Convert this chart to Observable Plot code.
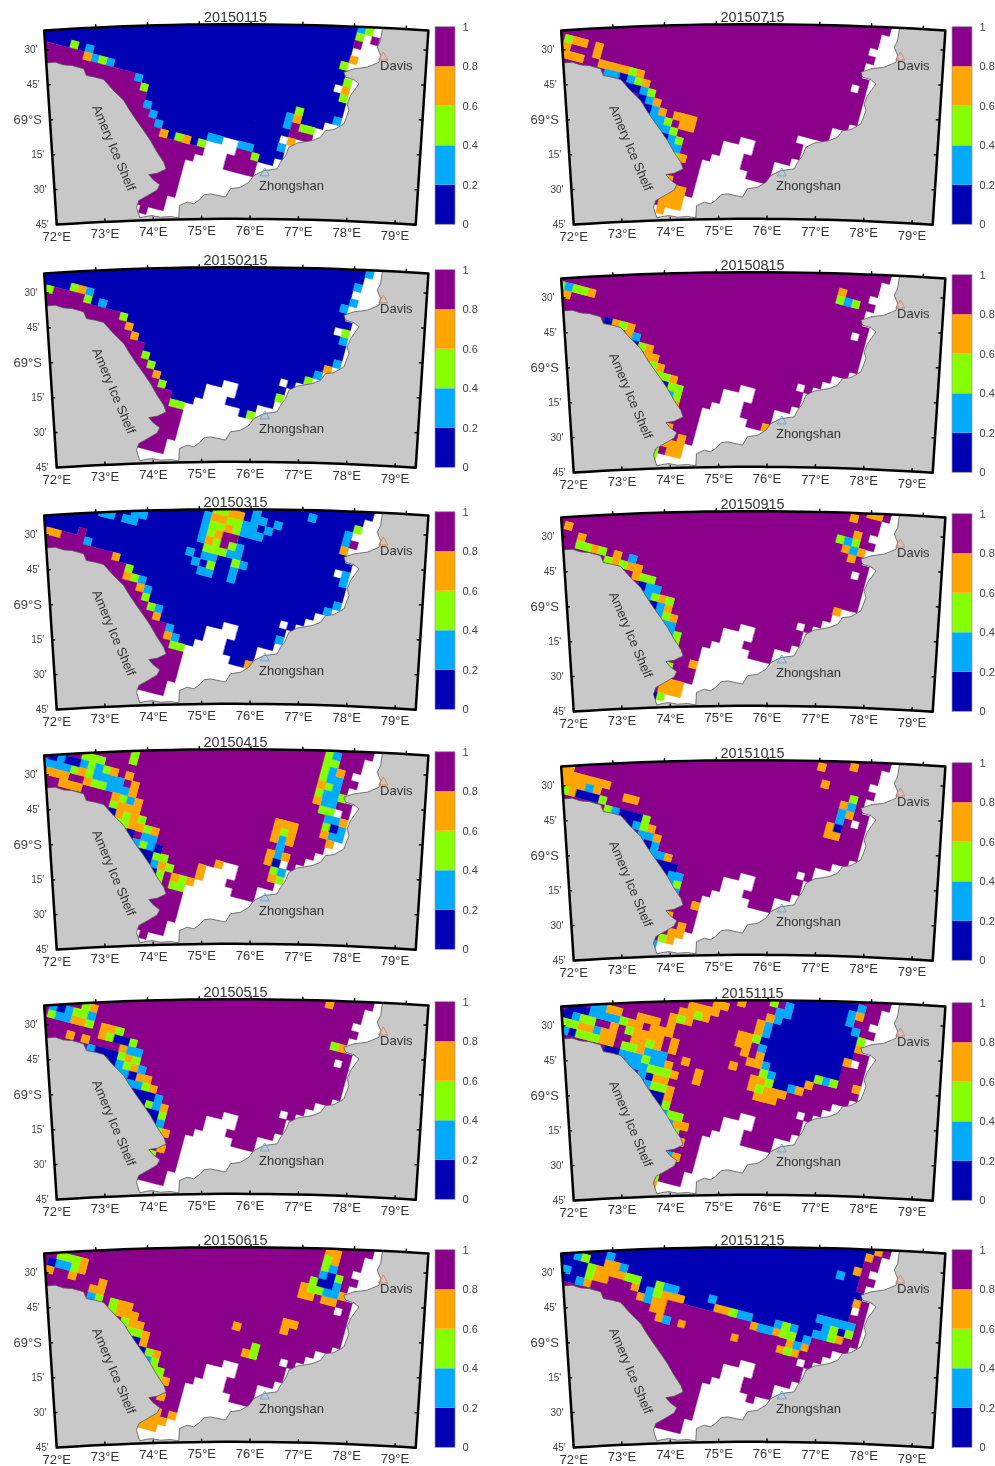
<!DOCTYPE html>
<html><head><meta charset="utf-8">
<script src="https://cdn.jsdelivr.net/npm/d3@7"></script>
<script src="https://cdn.jsdelivr.net/npm/@observablehq/plot@0.6"></script>
<style>html,body{margin:0;padding:0;background:#fff}#root{position:relative;width:995px;height:1466px;overflow:hidden}svg{position:absolute;font-family:"Liberation Sans",Arial,sans-serif;filter:blur(0.35px)}</style>
</head><body><div id="root"></div>
<script>
// sea-ice concentration classes
const B=0.1,C=0.3,G=0.5,O=0.7,P=0.9,W=null;
const classEdges=[0.2,0.4,0.6,0.8];
const classColors=["#0000b4","#00aaff","#88ff00","#ffa500","#8b008b"];
const barTicks=[0,0.2,0.4,0.6,0.8,1];
const lonTicks=[72,73,74,75,76,77,78,79];
const topTicks=[73,74,75,76,77,78,79];
const latTicks=[-68.5,-68.75,-69,-69.25,-69.5,-69.75];
const latLabels=["30'","45'","69°S","15'","30'","45'"];
const dates=["20150115","20150215","20150315","20150415","20150515","20150615","20150715","20150815","20150915","20151015","20151115","20151215"];
// ocean grid rows: [row, firstCol, lastCol, firstCol, lastCol ...]
const oceanRows=[[-12,-6,36],[-11,-6,36],[-10,-6,35],[-9,-6,35],[-8,-6,34],[-7,-6,35],[-6,-6,34],[-5,-6,34],[-4,-6,35],[-3,-6,33,35,35],[-2,-6,35],[-1,-6,35],[0,-6,35],[1,-6,35],[2,-6,34],[3,-6,32],[4,-6,31],[5,-6,28,30,30],[6,-6,29],[7,-6,21,24,29],[8,-6,19,24,28],[9,-6,19,23,26],[10,-6,18,23,26],[11,-6,17,24,26],[12,-6,17],[13,-6,17],[14,-6,17],[15,-6,17],[16,12,16],[17,13,16]];
const amerySouth=[[P,12,-6,17],[P,13,-6,17],[P,14,-6,17],[P,15,-6,17],[P,16,12,16],[P,17,13,16]];
// per-month: [class,row,col0,col1]
const ice0115=[[P,1,-6,1],[O,1,2],[C,1,3],[G,1,4],[C,1,5],[P,2,-6,8],[C,2,9],[P,3,-6,9],[G,3,10],[P,4,-6,10],[P,5,-6,10],[C,5,11],[P,6,-6,11],[C,6,12],[P,7,-6,12],[C,7,13],[P,8,-6,13],[O,8,14],[G,8,16],[O,8,17],[G,8,19],[P,9,-6,19],[P,10,-6,18],[P,11,-6,17],...amerySouth,[P,18,14],[G,0,0],[C,0,2],[C,7,20,21],[C,7,24,25],[P,8,24,25],[G,8,26],[P,9,23,26],[P,10,23,26],[W,11,24,26],[C,2,29],[C,3,29],[G,1,30],[O,2,30],[P,3,30],[G,3,31,32],[P,4,30,32],[O,5,30],[C,6,29],[W,2,34],[G,-10,35],[P,-9,35],[O,-7,35],[G,-6,34],[G,-4,35],[O,-3,35],[G,-2,35],[C,1,35],[G,-11,36],[C,-11,35],[P,-10,37]];
const ice0215=[[G,1,-3],[P,1,-2,1],[G,1,2],[G,0,0],[O,0,1],[C,0,2],[C,1,4],[P,2,-6,6],[G,2,7],[P,3,-6,7],[O,3,8],[P,4,-6,8],[O,4,9],[P,5,-6,10],[P,6,-6,10],[G,6,11],[P,7,-6,11],[G,7,12],[P,8,-6,12],[O,8,13],[P,9,-6,13],[G,9,14],[P,10,-6,15],[P,11,-6,15],[G,11,16,17],...amerySouth,[W,10,23,24],[W,11,24,26],[G,10,26],[G,7,29],[G,4,32],[C,3,33],[O,2,34],[C,1,35],[C,-2,35],[G,-3,35],[C,-6,34],[C,-7,35],[C,-9,35],[C,-11,36]];
const ice0315=[[O,1,-3,-2],[P,0,1],[P,1,-1,1],[C,1,2],[P,2,-6,5],[O,2,6],[P,3,-6,7],[G,3,8],[P,4,-6,7],[O,4,8],[G,4,9],[C,4,10],[P,5,-6,9],[O,5,10],[C,5,11],[P,6,-6,10],[G,6,11],[P,7,-6,11],[G,7,12],[C,7,13],[P,8,-6,12],[O,8,13],[P,9,-6,14],[C,9,15],[P,10,-6,14],[O,10,15],[C,10,16],[P,11,-6,15],[G,11,16,17],...amerySouth,[O,11,26],[C,7,29],[C,2,34],[C,1,35],[C,-3,35],[C,-2,35],[O,-6,34],[P,-7,35],[C,-7,34],[C,-8,34],[G,-9,35],[O,-6,17,18],[O,-7,19,20],[G,-7,17,18],[G,-6,19,20],[C,-6,16],[C,-5,16],[G,-5,17,18],[O,-5,19],[G,-5,20],[C,-4,16],[G,-4,17],[O,-4,18],[P,-4,19,20],[C,-3,16],[O,-3,17],[G,-3,18],[P,-3,19],[G,-3,20],[C,-3,21],[G,-2,17,19],[C,-2,20,21],[C,-1,17,18],[G,-1,21],[C,-1,22],[C,-1,15],[C,0,16],[G,0,18],[C,1,17,18],[C,0,21],[C,1,21],[C,-7,22,23],[C,-6,21,22],[C,-5,21,23],[C,-6,24],[C,-7,25],[C,-8,22],[C,-3,3,4],[C,-3,6,7],[C,-4,7,8],[C,-9,29]];
const ice0415=[[G,-4,7],[G,-3,7],[G,-2,1,3],[B,-1,-3],[C,-1,-2],[B,-1,-1,0],[C,-1,1],[G,-1,2],[C,-1,3],[G,-1,4],[O,-1,5],[O,-1,7],[C,0,-4,-1],[G,0,0],[O,0,1],[G,0,2],[C,0,3,6],[O,0,8],[O,1,-3,-1],[O,1,2],[G,1,3,4],[C,1,5,7],[O,1,8],[O,2,-1,1],[O,2,6],[G,2,7],[C,2,8],[O,2,9],[G,3,6],[O,3,7,9],[B,4,6],[O,4,7],[G,4,8],[O,4,9],[G,4,10],[G,5,7,8],[O,5,9,10],[G,5,11],[O,5,12],[B,6,9],[C,6,11,12],[C,7,10],[G,7,11],[C,7,12],[B,7,13],[B,8,11,12],[G,8,13,14],[B,9,12],[C,9,13],[O,9,14],[G,9,15],[O,8,19],[O,9,19],[B,10,13],[G,10,14],[O,10,16],[G,10,17],[O,10,18],[G,11,14],[G,11,16,17],[O,7,21],[W,10,23],[W,11,24,26],[O,0,27,29],[O,1,27],[G,1,28],[O,1,29],[O,2,27],[C,2,28],[O,2,29],[C,3,28],[O,4,27],[C,4,28],[O,4,29],[O,5,27],[B,5,28],[G,6,28],[C,6,29],[O,7,28],[G,7,29],[G,-10,31],[C,-10,32],[G,-9,31,32],[G,-8,31],[C,-8,32],[O,-8,33],[G,-7,31],[C,-7,32,33],[O,-6,31],[G,-6,32],[C,-6,33],[G,-5,31],[C,-5,32,33],[G,-5,34],[O,-4,31],[C,-4,32,33],[G,-3,32,33],[C,-2,33,34],[O,-2,35],[G,-1,33],[B,-1,34],[C,-1,35],[O,0,33],[C,0,34,35],[O,1,34],[W,1,35],[W,2,34],[P,18,14]];
const ice0515=[[G,0,-3],[C,0,-2,-1],[C,-1,-3],[B,-1,-2],[C,-1,-1],[G,-1,0],[G,-1,1],[C,-1,2],[G,-2,1],[O,-2,2],[O,0,0,1],[G,0,2],[O,2,0],[O,2,2],[O,0,4,5],[G,0,6],[O,1,4],[G,1,5],[B,1,6,7],[G,1,8],[O,2,7],[C,2,8,9],[C,3,3],[B,3,4,6],[G,3,7],[O,3,8],[G,3,9],[B,4,6],[C,4,7],[G,4,8],[O,4,9],[C,4,10],[C,5,7,8],[B,5,9],[O,5,10,11],[C,6,9,10],[G,6,11],[O,6,12],[B,7,10,12],[C,7,13],[B,8,11],[G,8,12],[C,8,13],[O,8,14],[B,9,12,13],[G,9,14],[B,10,13],[C,10,14],[G,11,14],[O,11,15],[G,14,14],[O,13,15],[O,-10,31],[G,-5,33],[O,-5,34],[W,10,23],[W,11,24,26]];
const ice0615=[[B,0,-3],[C,0,-2,-1],[G,-1,-2,0],[G,0,0],[O,-1,1],[O,0,1],[O,1,-3],[O,1,0],[O,2,3,4],[O,1,4],[C,3,3],[G,3,4],[G,3,6],[O,3,7,8],[G,4,6],[O,4,7,9],[G,5,8],[O,5,9,10],[G,6,9,10],[O,6,11],[B,7,10],[O,7,11],[B,8,11],[G,8,12],[O,8,13],[C,9,12],[G,9,13],[G,10,13,14],[G,11,14],[O,11,15],[O,13,15],[O,15,15],[O,15,17],[O,16,13,16],[O,17,13,15],[W,17,16],[O,-10,31,32],[O,-9,32],[G,-9,31],[G,-8,31],[C,-8,32],[C,-7,31],[B,-7,32],[G,-7,33],[B,-6,31,32],[C,-6,33],[G,-6,30],[G,-5,30,31],[C,-5,32,33],[O,-5,34],[O,-5,29],[O,-4,29,30],[O,-4,32,33],[O,2,22],[O,0,28,29],[O,1,28],[O,5,24],[G,4,25],[G,5,25]];
const ice0715=[[G,0,-3],[O,0,-2,-1],[O,1,-3],[O,2,-3,-1],[O,0,1],[O,1,1],[O,2,2,5],[G,2,6],[O,2,7],[C,3,3,4],[B,3,5],[C,3,6],[G,3,7],[O,3,8],[B,4,6,7],[C,4,8],[G,4,9],[B,5,8],[C,5,9],[O,5,10],[B,6,9],[C,6,10],[O,6,11],[C,7,10,11],[G,7,12],[C,8,11,12],[G,8,13],[B,9,12],[C,9,13],[G,9,14],[C,10,13,14],[G,11,14],[O,11,15],[O,6,13,15],[O,7,14,15],[O,14,14],[O,15,15,16],[O,16,14,16],[P,17,13],[O,17,14,16],[O,18,14],[W,5,30],[P,4,32]];
const ice0815=[[G,0,-4],[C,0,-3],[G,0,-2,-1],[O,0,0],[O,1,-3],[B,3,3],[O,3,4],[G,3,5],[O,3,6],[O,4,6],[C,4,7],[B,5,7],[G,5,8],[O,5,9],[O,6,9,10],[G,7,10],[O,7,11],[G,8,11,12],[O,8,13],[B,9,12],[G,9,13,14],[C,10,13],[G,10,14],[O,11,14],[O,-8,31],[G,-7,31],[C,-7,32],[G,-7,33],[O,11,26],[O,14,14],[O,15,16],[O,16,14,16],[P,17,14],[O,17,15,16],[G,17,13],[G,18,13]];
const ice0915=[[O,0,-3],[O,1,-1],[G,2,-1,0],[O,2,1],[G,2,2],[O,2,4],[G,3,3],[O,3,4],[G,3,5],[C,2,6],[O,3,6,7],[O,4,7],[G,4,8,9],[B,5,8],[C,5,9,10],[C,6,9],[G,6,10],[O,6,11],[G,6,12],[B,7,10],[C,7,11],[O,7,12],[C,8,11],[G,8,12],[O,8,13],[C,9,12,13],[C,10,13],[G,10,14],[G,11,14],[O,13,17],[O,16,14,16],[O,17,14,16],[B,18,13],[G,18,14],[G,14,14],[O,-10,32],[O,-11,34,35],[O,-8,33],[G,-7,31],[C,-7,32],[G,-7,33],[O,-6,32],[C,-6,33],[O,-6,34],[O,-5,33],[O,2,33],[W,2,34],[W,10,23],[W,11,24,26]];
const ice1015=[[O,-1,-4,-3],[O,0,-4,2],[O,1,-4,-1],[C,1,0],[O,1,1],[G,2,-3],[O,2,-2],[B,2,-1,1],[G,2,2],[G,3,3],[C,3,4],[B,3,5,7],[G,3,8],[B,4,6],[C,4,7],[G,4,8],[O,4,9],[C,5,8,9],[O,5,10],[B,6,9],[C,6,10],[C,7,10,11],[O,7,12],[B,8,11,13],[B,9,12],[C,9,13,14],[C,10,13],[G,10,14],[C,11,14],[O,1,5,6],[O,12,17],[O,-9,28],[O,-7,29],[O,-10,32],[G,-6,33],[O,-5,32],[C,-5,33],[C,-4,32],[O,-4,33],[C,-3,32],[O,-2,31],[B,-2,32],[O,-1,31,32],[W,4,31],[W,10,23],[W,11,24,26],[O,14,14],[O,15,16],[O,16,15,16],[G,17,14],[O,17,15],[W,17,16],[C,18,13]];
const ice1115=[[B,-10,28,32],[C,-10,33],[B,-9,24,31],[C,-9,32],[O,-9,33],[C,-8,24],[B,-8,25,31],[C,-8,32],[G,-8,22],[O,-7,18],[C,-7,23,24],[B,-7,25,32],[C,-7,33],[O,-6,22],[C,-6,23],[B,-6,24,33],[G,-6,34],[O,-6,15,16],[O,-5,12,15],[O,-5,21],[C,-5,22],[B,-5,23,33],[O,-5,34],[O,-4,11,12],[G,-4,13],[O,-4,14],[O,-4,21],[C,-4,22],[B,-4,23,33],[O,-3,10],[G,-3,11],[O,-3,12],[O,-3,19,20],[G,-3,21],[B,-3,22,32],[O,-3,33],[C,-2,0,1],[O,-2,2,3],[O,-2,6,8],[O,-2,10],[O,-2,19,20],[C,-2,22],[B,-2,23,32],[B,-1,-3,-1],[C,-1,0,3],[G,-1,4],[O,-1,5,6],[O,-1,8,10],[O,-1,20],[O,-1,22],[B,-1,23,32],[B,0,-4,-3],[C,0,-2],[G,0,-1,0],[O,0,3],[G,0,5],[O,0,6,9],[O,0,11],[O,0,21,22],[C,0,23],[B,0,24,29],[G,0,30],[C,0,31],[G,0,32],[O,0,35],[G,1,-4,-2],[O,1,-1,0],[C,1,1],[O,1,2,3],[O,1,6,7],[G,1,8],[O,1,9],[O,1,11],[O,1,19],[G,1,23],[C,1,24],[B,1,25,28],[O,1,29],[C,2,-3],[B,2,-2],[G,2,-1,1],[O,2,2,3],[G,2,5,6],[O,2,7],[C,2,8,10],[O,2,13],[O,2,22,23],[G,2,24],[B,2,25,26],[C,2,27],[O,2,28],[B,3,3,4],[C,3,5,7],[G,3,8],[C,3,9,10],[O,3,11],[O,3,15],[O,3,22],[G,3,23],[O,3,24,26],[C,4,6,8],[G,4,9,11],[O,4,12],[O,4,15],[O,4,23,25],[C,5,8],[B,5,9],[O,5,10,11],[C,6,9],[G,6,10,11],[O,6,12],[B,7,10,11],[O,7,12],[B,8,11],[G,8,12],[C,9,12],[G,9,13,14],[C,10,13],[O,10,14,15],[G,11,14],[O,12,15],[C,14,14],[O,14,15],[G,17,13],[O,18,13],[W,11,24,26]];
const ice1215=[[B,-12,-6,36],[B,-11,-6,34],[O,-11,35],[P,-11,36],[B,-10,-6,33],[O,-10,34],[P,-10,35],[B,-9,-6,33],[P,-9,34,35],[B,-8,-6,32],[O,-8,33],[P,-8,34],[B,-7,-6,33],[C,-7,31],[P,-7,34,35],[B,-6,-6,33],[P,-6,34],[B,-5,-6,34],[B,-4,-6,33],[O,-4,34],[P,-4,35],[B,-3,-6,33],[P,-3,35],[B,-2,-6,33],[C,-2,2],[P,-2,34,35],[B,-1,-6,29],[C,-1,-2],[G,-1,-1],[O,-1,2,3],[C,-1,4],[C,-1,30,34],[P,-1,35],[B,0,-6,-1],[G,0,0],[O,0,1,4],[G,0,5,6],[B,0,7,8],[G,0,9],[C,0,10,11],[B,0,12,15],[C,0,16],[B,0,17,30],[C,0,31],[G,0,32],[B,0,33],[G,0,34],[P,0,35],[B,1,-6,-1],[C,1,-3],[G,1,0],[O,1,1,2],[O,1,6],[B,1,7],[C,1,8],[G,1,9],[O,1,10,12],[B,1,13,16],[O,1,17,18],[G,1,19],[C,1,20,21],[B,1,22,24],[C,1,25],[G,1,26],[C,1,27],[B,1,28,29],[C,1,30,31],[G,1,32],[O,1,33],[B,2,-6,-2],[C,2,-1],[O,2,0],[O,2,7],[C,2,8],[O,2,9,10],[O,2,22],[C,2,23,24],[O,2,25],[G,2,26,27],[B,2,28],[C,2,29],[O,3,9,10],[O,3,27],[C,3,28],[O,3,29],[O,4,10],[C,4,11],[O,4,13],[O,4,20],[O,4,26],[G,4,27],[O,4,28],[W,11,25,26]];
const monthly=[[B,ice0115],[B,ice0215],[B,ice0315],[P,ice0415],[P,ice0515],[P,ice0615],[P,ice0715],[P,ice0815],[P,ice0915],[P,ice1015],[P,ice1115],[P,ice1215]];
// coastline, lon/lat
const coast=[[72,-68.592],[72.176,-68.591],[72.337,-68.614],[72.499,-68.622],[72.724,-68.65],[72.77,-68.699],[72.945,-68.714],[73.107,-68.733],[73.264,-68.803],[73.358,-68.84],[73.485,-68.889],[73.578,-68.95],[73.704,-69.024],[73.863,-69.109],[73.99,-69.181],[74.118,-69.266],[74.247,-69.339],[74.291,-69.387],[74.106,-69.416],[73.936,-69.424],[74.021,-69.461],[74.154,-69.498],[74.097,-69.535],[73.923,-69.569],[73.714,-69.607],[73.661,-69.654],[73.722,-69.731],[73.875,-69.721],[73.979,-69.718],[74.15,-69.731],[74.357,-69.728],[74.528,-69.739],[74.547,-69.651],[74.706,-69.628],[74.843,-69.64],[74.981,-69.606],[75.051,-69.577],[75.187,-69.571],[75.495,-69.594],[75.598,-69.535],[75.802,-69.524],[75.972,-69.488],[76.073,-69.44],[76.276,-69.404],[76.546,-69.39],[76.612,-69.343],[76.711,-69.295],[76.775,-69.235],[76.941,-69.203],[77.242,-69.183],[77.408,-69.158],[77.504,-69.109],[77.67,-69.1],[77.866,-69.057],[77.956,-68.96],[77.917,-68.913],[77.977,-68.853],[78.132,-68.767],[78.03,-68.738],[77.864,-68.723],[77.828,-68.688],[78.022,-68.661],[78.282,-68.645],[78.506,-68.606],[78.532,-68.558],[78.459,-68.499],[78.518,-68.451],[78.541,-68.36]];
const stations=[{lon:78.586,lat:-68.569,c:"#d9805a"},{lon:76.297,lat:-69.423,c:"#5aa5d9"}];
const places=[{name:"Davis",lon:78.849,lat:-68.623,rot:0},{name:"Zhongshan",lon:76.844,lat:-69.508,rot:0},{name:"Amery Ice Shelf",lon:73.247,lat:-69.224,rot:67}];
const west=72,east=79.43,north=-68.36,south=-69.75,lon0=75.7;

// reference grid and projection (stereographic, south-pole aspect)
const K=46540,PX=705,PY=8951;
const base=d3.geoStereographic().rotate([-lon0,90]).scale(K).translate([PX,PY]).precision(0.1);
const gridXY=(i,j)=>[222+22.7*i-6.2*j,118+5.9*i+22.9*j];
const cellRing=(i,j)=>[[i-.5,j-.5],[i+.5,j-.5],[i+.5,j+.5],[i-.5,j+.5],[i-.5,j-.5]].map(([a,b])=>base.invert(gridXY(a,b)));
const along=(lat,a,b)=>{const n=24;return d3.range(n+1).map(k=>[a+(b-a)*k/n,lat]);};
const frameRing=[...along(north,west,east),...along(south,east,west),[west,north]];
const landRing=[...coast,...along(north,78.541,east),...along(south,east,west),coast[0]];
const outerLat=-68.2,outerLon=71;
const outTop={type:"Polygon",coordinates:[[...along(outerLat,outerLon,81),...along(north,81,outerLon),[outerLon,outerLat]]]};
const outLeft={type:"Polygon",coordinates:[[...along(north+0.02,outerLon,west),...along(south-0.03,west,outerLon),[outerLon,north+0.02]]]};
const fix=g=>{if(d3.geoArea(g)>2*Math.PI)g.coordinates[0].reverse();return g;};
const land=fix({type:"Polygon",coordinates:[landRing]});
const frame=fix({type:"Polygon",coordinates:[frameRing]});
fix(outTop);fix(outLeft);
const tickLines={type:"MultiLineString",coordinates:[
 ...lonTicks.map(l=>[[l,south],[l,south+0.02]]),
 ...topTicks.map(l=>[[l,north],[l,north+0.02]]),
 ...latTicks.map(l=>[[west,l],[west+0.05,l]]),
 ...latTicks.map(l=>[[east,l],[east-0.06,l]])]};

function buildCells(def,runs){
  const m=new Map();
  for(const row of oceanRows){const j=row[0];for(let s=1;s<row.length;s+=2)for(let i=row[s];i<=row[s+1];i++)m.set(i+","+j,def);}
  for(const [v,j,a,b] of runs){for(let i=a;i<=(b===undefined?a:b);i++){if(v===null)m.delete(i+","+j);else m.set(i+","+j,v);}}
  const visible=[...m].filter(([k])=>{const [i,j]=k.split(",").map(Number);const [x,y]=gridXY(i,j);return y>=45&&x>=85;});
  const groups=d3.group(visible,d=>d[1]);
  return [...groups].map(([v,list])=>({type:"Feature",properties:{v},geometry:{type:"MultiPolygon",coordinates:list.map(([k])=>{const [i,j]=k.split(",").map(Number);return [cellRing(i,j)];})}}));
}
const colorScale={type:"threshold",domain:classEdges,range:classColors};
const root=document.getElementById("root");
const tops=[0,243,485,725,975,1222.7,0,248,487,736,976,1223];
const lefts=[0,0,0,0,0,0,517,517,517,517,517,517];

dates.forEach((date,n)=>{
  const [def,runs]=monthly[n];
  const proj=d3.geoStereographic().rotate([-lon0,90]).scale(K/3).translate([PX/3,PY/3+5]).precision(0.1);
  const map=Plot.plot({width:432,height:243,margin:0,projection:proj,color:colorScale,style:{background:"transparent",overflow:"hidden"},marks:[
    Plot.geo(buildCells(def,runs),{fill:d=>d.properties.v,stroke:d=>d.properties.v,strokeWidth:0.4}),
    Plot.geo([land],{fill:"#c8c8c8",stroke:"#555",strokeWidth:0.8}),
    Plot.geo([outTop,outLeft],{fill:"#fff",stroke:"#fff"}),
    Plot.geo([tickLines],{stroke:"#000",strokeWidth:1.5,fill:"none"}),
    Plot.geo([frame],{stroke:"#000",strokeWidth:2.5,fill:"none"}),
    Plot.dot(stations,{x:"lon",y:"lat",symbol:"triangle",r:3.4,stroke:"c",fill:"none",strokeWidth:0.9}),
    Plot.text(places,{x:"lon",y:"lat",text:"name",rotate:"rot",fontSize:13,fill:"#333"}),
    Plot.text(lonTicks,{x:d=>d,y:()=>south,dy:12,text:d=>d+"°E",fontSize:13,fill:"#333"}),
    Plot.text(latTicks,{x:()=>west,y:d=>d,dx:-8,text:(d,i)=>latLabels[i],textAnchor:"end",fontSize:(d,i)=>i===2?13:10,fill:"#444"}),
    Plot.text([date],{x:()=>lon0,y:()=>north,dy:-7,text:d=>d,fontSize:14.4,fill:"#333"})
  ]});
  map.setAttribute("height",250);map.setAttribute("viewBox","0 0 432 250");
  map.style.left=lefts[n]+"px";map.style.top=tops[n]+"px";
  root.appendChild(map);
  const bar=Plot.plot({width:60,height:243,margin:0,x:{domain:[0,1],range:[5,25],axis:null},y:{domain:[0,1],range:[224.3,26.7],axis:null},color:colorScale,style:{background:"transparent"},marks:[
    Plot.rect(d3.range(5),{x1:()=>0,x2:()=>1,y1:i=>i*0.2,y2:i=>(i+1)*0.2,fill:i=>i*0.2+0.1}),
    Plot.rect([0],{x1:()=>0,x2:()=>1,y1:()=>0,y2:()=>1,fill:"none",stroke:"#999",strokeWidth:0.7}),
    Plot.text(barTicks,{x:()=>1,y:d=>d,dx:7,text:d=>String(d),textAnchor:"start",fontSize:11,fill:"#444"})
  ]});
  bar.style.left=(lefts[n]+430)+"px";bar.style.top=tops[n]+"px";
  root.appendChild(bar);
});
</script></body></html>
